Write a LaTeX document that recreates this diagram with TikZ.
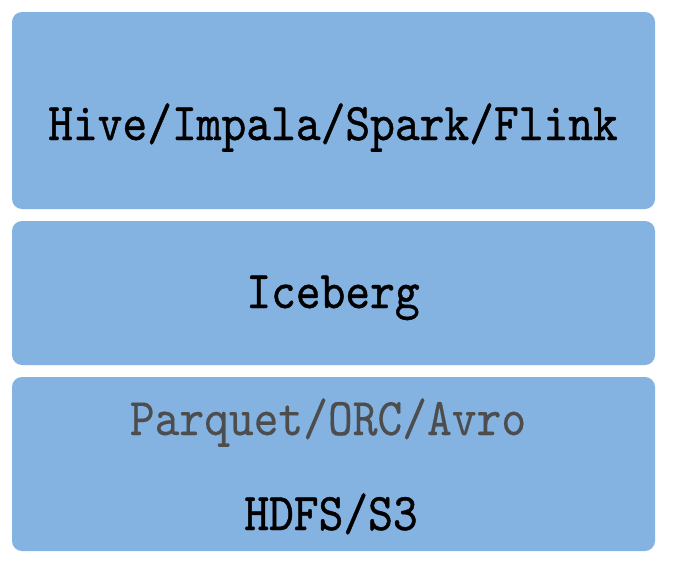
\documentclass[tikz,border=0pt]{standalone}
\usepackage{fontspec}
\newfontfamily\stackfont[FakeStretch=0.89, FakeBold=0.8]{lmmono10-regular.otf}
\newfontfamily\formatfont[FakeStretch=0.89, FakeBold=0.3]{lmmono10-regular.otf}
\usetikzlibrary{positioning}
\definecolor{layerblue}{HTML}{84B3E2}
\definecolor{formatgray}{HTML}{4D4D4D}
\tikzset{
  layer/.style={fill=layerblue, rounded corners=10pt, inner sep=0pt, minimum width=643pt},
  label/.style={font=\stackfont\fontsize{53}{60}\selectfont, anchor=base, inner sep=0pt}
}

\begin{document}
\begin{tikzpicture}[x=1pt, y=-1pt]
  \useasboundingbox (0,0) rectangle (676,562);

  % three layers of the stack
  \node[layer, minimum height=197pt] (engine) at (333.5,110.5) {};
  \node[layer, minimum height=144pt] (table) at (333.5,293) {};
  \node[layer, minimum height=174pt] (storage) at (333.5,464) {};

  % texts
  \node[label] (engines) at (333,140) {Hive/Impala/Spark/Flink};
  \node[label] (iceberg) at (333,308) {Iceberg};
  \node[label, font=\formatfont\fontsize{53}{60}\selectfont, text=formatgray] (formats) at (328,435) {Parquet/ORC/Avro};
  \node[label] (hdfs) at (331,530) {HDFS/S3};
\end{tikzpicture}
\end{document}
